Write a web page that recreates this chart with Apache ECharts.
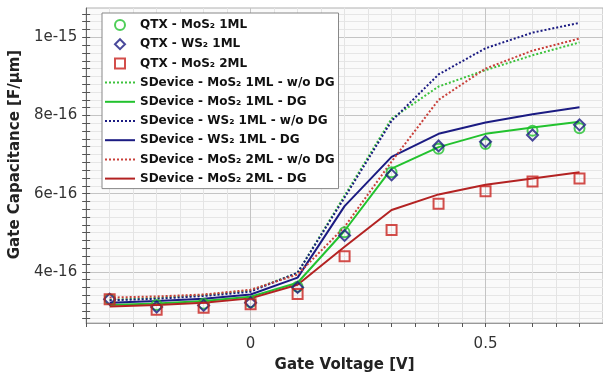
<!DOCTYPE html>
<html>
<head>
<meta charset="utf-8">
<script src="https://cdn.jsdelivr.net/npm/echarts@6/dist/echarts.min.js"></script>
<style>
  html, body { margin: 0; padding: 0; background: #fff; }
  #chart { width: 603px; height: 378px; }
</style>
</head>
<body>
<div id="chart"></div>
<script>
// Gate voltage sweep [V]
const voltage = [-0.3, -0.2, -0.1, 0, 0.1, 0.2, 0.3, 0.4, 0.5, 0.6, 0.7];

// Gate capacitance, in units of 1e-16 F/µm
const qtxMoS2_1ML = [3.30, 3.15, 3.18, 3.22, 3.62, 5.01, 6.55, 7.15, 7.27, 7.61, 7.67];
const qtxWS2_1ML  = [3.30, 3.10, 3.14, 3.21, 3.60, 4.93, 6.48, 7.22, 7.33, 7.50, 7.76];
const qtxMoS2_2ML = [3.30, 3.03, 3.08, 3.17, 3.43, 4.40, 5.07, 5.74, 6.06, 6.31, 6.39];

const sdMoS2_1ML_noDG = [3.28, 3.33, 3.40, 3.52, 3.97, 5.95, 7.92, 8.74, 9.16, 9.54, 9.87];
const sdMoS2_1ML_DG   = [3.15, 3.19, 3.25, 3.36, 3.72, 5.05, 6.64, 7.19, 7.53, 7.69, 7.84];
const sdWS2_1ML_noDG  = [3.27, 3.31, 3.38, 3.49, 3.98, 5.90, 7.86, 9.05, 9.72, 10.12, 10.37];
const sdWS2_1ML_DG    = [3.21, 3.25, 3.31, 3.42, 3.85, 5.68, 6.94, 7.53, 7.82, 8.03, 8.21];
const sdMoS2_2ML_noDG = [3.34, 3.37, 3.42, 3.54, 3.93, 5.15, 6.82, 8.40, 9.20, 9.66, 9.97];
const sdMoS2_2ML_DG   = [3.11, 3.15, 3.21, 3.32, 3.67, 4.64, 5.58, 5.98, 6.23, 6.39, 6.55];

// Tick values (units of 1e-16 F/µm on y)
const yMajorTicks = [4, 6, 8, 10];
const xMajorTicks = [0, 0.5];

const Y_MIN = 2.69, Y_MAX = 10.75;
const X_MIN = -0.35, X_MAX = 0.75;

const yMinorTicks = [];
for (let k = 14; k <= 53; k++) yMinorTicks.push(Math.round(k * 0.2 * 100) / 100);

function pairs(ys) { return voltage.map((v, i) => [v, ys[i]]); }

function yLabel(v) {
  return v >= 10 ? (v / 10) + 'e-15' : v + 'e-16';
}

const GREEN = '#22c22e', BLUE = '#1b1b82', RED = '#b32222', RED_DOT = '#c9403a';
const DOT = [2, 2];

// Legend icons for the hollow markers (path icons keep their aspect ratio)
const ICON_DIAMOND = 'path://M5,0L10,5L5,10L0,5Z';
const ICON_SQUARE = 'path://M0,0L10,0L10,10L0,10Z';

function marker(name, symbol, size, color, ys) {
  return {
    name, type: 'scatter', symbol, symbolSize: size, data: pairs(ys), z: 5,
    itemStyle: { color: 'rgba(255,255,255,0)', borderColor: color, borderWidth: 2 }
  };
}
function curve(name, color, dotted, ys) {
  return {
    name, type: 'line', data: pairs(ys), symbol: 'none', showSymbol: false, z: 3,
    itemStyle: { color },
    lineStyle: { color, width: 2, type: dotted ? DOT : 'solid' }
  };
}

const series = [
  marker('QTX - MoS₂ 1ML', 'circle', 10, GREEN, qtxMoS2_1ML),
  marker('QTX - WS₂ 1ML', 'diamond', 11, BLUE, qtxWS2_1ML),
  marker('QTX - MoS₂ 2ML', 'rect', 10, '#c8221e', qtxMoS2_2ML),
  curve('SDevice - MoS₂ 1ML - w/o DG', '#3cc23c', true, sdMoS2_1ML_noDG),
  curve('SDevice - MoS₂ 1ML - DG', GREEN, false, sdMoS2_1ML_DG),
  curve('SDevice - WS₂ 1ML - w/o DG', BLUE, true, sdWS2_1ML_noDG),
  curve('SDevice - WS₂ 1ML - DG', BLUE, false, sdWS2_1ML_DG),
  curve('SDevice - MoS₂ 2ML - w/o DG', RED_DOT, true, sdMoS2_2ML_noDG),
  curve('SDevice - MoS₂ 2ML - DG', RED, false, sdMoS2_2ML_DG)
];

const legendData = series.map(s => {
  if (s.type === 'line') return { name: s.name, itemStyle: { opacity: 0 } };
  if (s.symbol === 'diamond') return { name: s.name, icon: ICON_DIAMOND };
  if (s.symbol === 'rect') return { name: s.name, icon: ICON_SQUARE };
  return { name: s.name, icon: 'circle' };
});

const chart = echarts.init(document.getElementById('chart'), null, { renderer: 'canvas' });
chart.setOption({
  animation: false,
  textStyle: { fontFamily: 'DejaVu Sans' },
  grid: {
    left: 81, top: 8, right: -2.5, bottom: 49,
    show: true, backgroundColor: '#fafafa', borderColor: '#b0b0b0', borderWidth: 1
  },
  legend: {
    data: legendData,
    orient: 'vertical',
    left: 102, top: 13,
    padding: [6, 4, 4, 2],
    itemWidth: 30, itemHeight: 10, itemGap: 7.2,
    symbolKeepAspect: true,
    backgroundColor: '#fff', borderColor: '#888', borderWidth: 1, borderRadius: 0,
    textStyle: { fontFamily: 'DejaVu Sans', fontWeight: 'bold', fontSize: 12, color: '#111', lineHeight: 12 }
  },
  xAxis: [
    {
      type: 'value', min: X_MIN, max: X_MAX, interval: 0.05,
      name: 'Gate Voltage [V]', nameLocation: 'middle', nameGap: 35,
      nameTextStyle: { fontFamily: 'DejaVu Sans', fontWeight: 'bold', fontSize: 15, color: '#222' },
      axisLine: { show: true, onZero: false, lineStyle: { color: '#999', width: 1 } },
      axisTick: { show: true, length: 4, lineStyle: { color: '#555' } },
      axisLabel: { customValues: xMajorTicks, formatter: v => String(v), fontSize: 15, color: '#333', margin: 14 },
      splitLine: { show: true, lineStyle: { color: '#e4e4e4', width: 1 } }
    },
    {
      type: 'value', min: X_MIN, max: X_MAX, position: 'bottom',
      axisLine: { show: false, onZero: false },
      axisTick: { show: false, customValues: xMajorTicks },
      axisLabel: { show: false },
      splitLine: { show: true, lineStyle: { color: '#c4c4c4', width: 1 } }
    }
  ],
  yAxis: [
    {
      type: 'value', min: Y_MIN, max: Y_MAX,
      name: 'Gate Capacitance [F/µm]', nameLocation: 'middle', nameGap: 60,
      nameTextStyle: { fontFamily: 'DejaVu Sans', fontWeight: 'bold', fontSize: 15, color: '#222', padding: [0, 0, 0, 22] },
      axisLine: { show: true, onZero: false, lineStyle: { color: '#666', width: 1 } },
      axisTick: { show: true, length: 4, customValues: yMinorTicks, lineStyle: { color: '#555' } },
      axisLabel: { customValues: yMajorTicks, formatter: yLabel, fontSize: 15, color: '#333', margin: 9 },
      splitLine: { show: true, lineStyle: { color: '#e6e6e6', width: 1 } }
    },
    {
      type: 'value', min: Y_MIN, max: Y_MAX, position: 'left',
      axisLine: { show: false, onZero: false },
      axisTick: { show: true, inside: true, length: 4, customValues: yMinorTicks, lineStyle: { color: '#555' } },
      axisLabel: { show: false },
      splitLine: { show: false }
    },
    {
      type: 'value', min: Y_MIN, max: Y_MAX, position: 'left',
      axisLine: { show: false, onZero: false },
      axisTick: { show: false, customValues: yMajorTicks },
      axisLabel: { show: false },
      splitLine: { show: true, lineStyle: { color: '#c4c4c4', width: 1 } }
    }
  ],
  series
});
</script>
</body>
</html>
